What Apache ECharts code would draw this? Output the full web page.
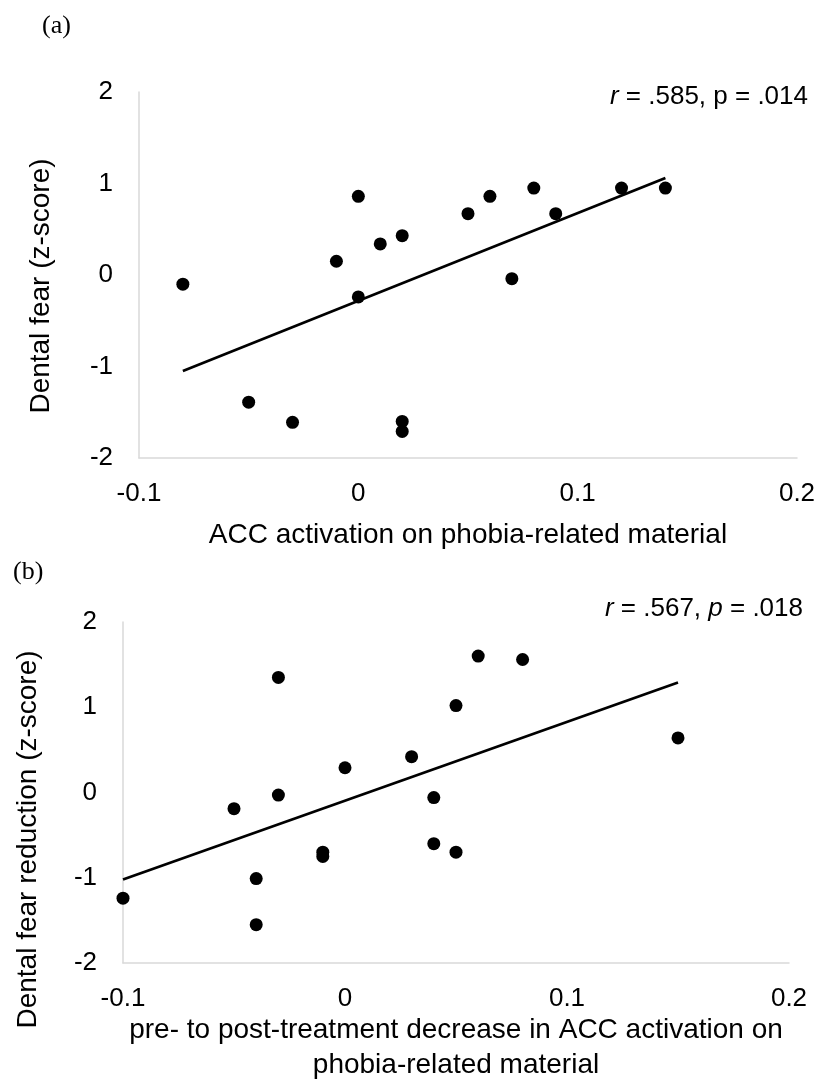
<!DOCTYPE html>
<html>
<head>
<meta charset="utf-8">
<script src="https://cdn.jsdelivr.net/npm/echarts@6/dist/echarts.min.js"></script>
<style>
html,body{margin:0;padding:0;background:#fff;}
#chart{width:827px;height:1084px;}
</style>
</head>
<body>
<div id="chart"></div>
<script>
// Panel (a)
const xTicksA = [-0.1, 0, 0.1, 0.2];
const yTicksA = [-2, -1, 0, 1, 2];
const accA = [-0.08,-0.05,-0.03,-0.01,0,0,0.01,0.02,0.02,0.02,0.05,0.06,0.07,0.08,0.09,0.12,0.14];
const fearA = [-0.10,-1.39,-1.61,0.15,0.86,-0.24,0.34,0.43,-1.60,-1.71,0.67,0.86,-0.04,0.95,0.67,0.95,0.95];
const trendXA = [-0.08, 0.14];
const trendYA = [-1.05, 1.06];
const statA = '{i|r} = .585, p = .014';

// Panel (b)
const xTicksB = [-0.1, 0, 0.1, 0.2];
const yTicksB = [-2, -1, 0, 1, 2];
const accB = [-0.10,-0.05,-0.04,-0.04,-0.03,-0.03,-0.01,-0.01,0,0.03,0.04,0.04,0.05,0.05,0.06,0.08,0.15];
const fearB = [-1.24,-0.19,-1.01,-1.55,1.35,-0.03,-0.70,-0.75,0.29,0.42,-0.06,-0.60,1.02,-0.70,1.60,1.56,0.64];
const trendXB = [-0.10, 0.15];
const trendYB = [-1.02, 1.29];
const statB = '{i|r} = .567, {i|p} = .018';

const FONT = 'Arial, "Liberation Sans", sans-serif';
const SERIF = '"Liberation Serif", "Times New Roman", serif';
const pairs = (xs, ys) => xs.map((x, i) => [x, ys[i]]);

function xAxisCfg(gridIndex, ticks, name, gap) {
  return {
    type: 'value', gridIndex,
    min: ticks[0], max: ticks[ticks.length - 1], interval: 0.1,
    name, nameLocation: 'middle', nameGap: gap,
    nameTextStyle: { fontFamily: FONT, fontSize: 28, color: '#000', lineHeight: 35 },
    axisLine: { show: true, onZero: false, lineStyle: { color: '#d9d9d9', width: 1.5 } },
    axisTick: { show: false },
    splitLine: { show: false },
    axisLabel: { fontFamily: FONT, fontSize: 26, color: '#000', margin: 23 }
  };
}
function yAxisCfg(gridIndex, ticks, name, gap, pad) {
  return {
    type: 'value', gridIndex,
    min: ticks[0], max: ticks[ticks.length - 1], interval: 1,
    name, nameLocation: 'middle', nameGap: gap, nameRotate: 90,
    nameTextStyle: { fontFamily: FONT, fontSize: 28, color: '#000', padding: pad },
    axisLine: { show: true, onZero: false, lineStyle: { color: '#d9d9d9', width: 1.5 } },
    axisTick: { show: false },
    splitLine: { show: false },
    axisLabel: { fontFamily: FONT, fontSize: 26, color: '#000', margin: 26 }
  };
}
const statStyle = { fontFamily: FONT, fontSize: 26, fontWeight: 'normal', color: '#000', rich: { i: { fontFamily: FONT, fontSize: 26, fontStyle: 'italic', color: '#000' } } };
const tagStyle = { fontFamily: SERIF, fontSize: 26, fontWeight: 'normal', color: '#000' };

const chart = echarts.init(document.getElementById('chart'), null, { renderer: 'canvas' });
chart.setOption({
  backgroundColor: '#fff',
  animation: false,
  title: [
    { text: '(a)', left: 42, top: 13, padding: 0, textStyle: tagStyle },
    { text: '(b)', left: 13, top: 559, padding: 0, textStyle: tagStyle },
    { text: statA, right: 19, top: 84, padding: 0, textStyle: statStyle },
    { text: statB, right: 24, top: 596, padding: 0, textStyle: statStyle }
  ],
  grid: [
    { left: 139, right: 30, top: 92, height: 366 },
    { left: 123, right: 38, top: 622, height: 346 }
  ],
  xAxis: [
    xAxisCfg(0, xTicksA, 'ACC activation on phobia-related material', 60),
    xAxisCfg(1, xTicksB, 'pre- to post-treatment decrease in ACC activation on\nphobia-related material', 50)
  ],
  yAxis: [
    yAxisCfg(0, yTicksA, 'Dental fear (z-score)', 84, [0, 22, 0, 0]),
    yAxisCfg(1, yTicksB, 'Dental fear reduction (z-score)', 81, [0, 94, 0, 0])
  ],
  series: [
    { type: 'line', xAxisIndex: 0, yAxisIndex: 0, data: pairs(trendXA, trendYA), symbol: 'none', lineStyle: { color: '#000', width: 2.75 }, z: 2 },
    { type: 'scatter', xAxisIndex: 0, yAxisIndex: 0, data: pairs(accA, fearA), symbolSize: 13, itemStyle: { color: '#000', opacity: 1 }, z: 3 },
    { type: 'line', xAxisIndex: 1, yAxisIndex: 1, data: pairs(trendXB, trendYB), symbol: 'none', lineStyle: { color: '#000', width: 2.75 }, z: 2 },
    { type: 'scatter', xAxisIndex: 1, yAxisIndex: 1, data: pairs(accB, fearB), symbolSize: 13, itemStyle: { color: '#000', opacity: 1 }, z: 3 }
  ]
});
</script>
</body>
</html>
